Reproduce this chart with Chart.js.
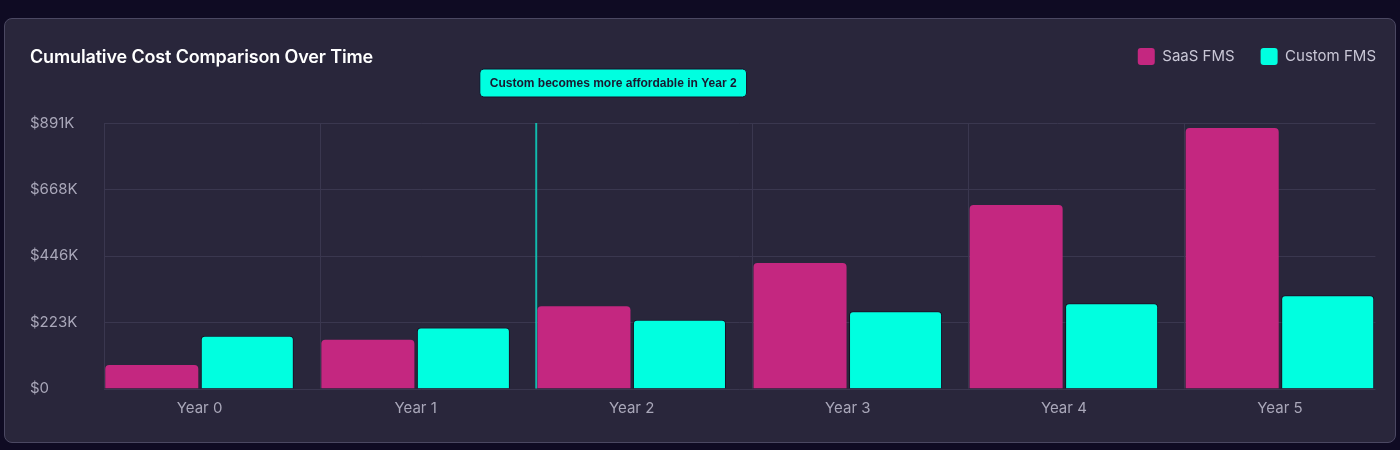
<!DOCTYPE html>
<html>
<head>
<meta charset="utf-8">
<script src="https://cdn.jsdelivr.net/npm/chart.js@4.4.1/dist/chart.umd.min.js"></script>
<style>
  html, body { margin: 0; padding: 0; background: #0f0b23; width: 1400px; height: 450px; overflow: hidden; }
  .card {
    position: absolute; left: 4px; top: 18px;
    width: 1390px; height: 423px;
    background: #29263b; border: 1px solid #4b4862; border-radius: 8px;
    overflow: hidden;
  }
  .card h2 {
    position: absolute; left: 25px; top: 27px; margin: 0;
    font: 600 18px/22px 'Inter', sans-serif; color: #ffffff; letter-spacing: -0.15px;
  }
  #costChart { position: absolute; left: 0; top: 0; }
</style>
</head>
<body>
<div class="card">
  <canvas id="costChart" width="1397" height="423" style="width:1397px;height:423px"></canvas>
  <h2>Cumulative Cost Comparison Over Time</h2>
</div>
<script>
// Veriler
const years = ['Year 0', 'Year 1', 'Year 2', 'Year 3', 'Year 4', 'Year 5'];
const saasCost = [79000, 164000, 276000, 421000, 616000, 874000];
const customCost = [177000, 205000, 231000, 259000, 286000, 313000];
const yTicks = [0, 222750, 445500, 668250, 891000];
const seriesNames = ['SaaS FMS', 'Custom FMS'];
const seriesColors = ['#c42780', '#00ffe0'];
const crossoverYear = 'Year 2';
const crossoverNote = 'Custom becomes more affordable in Year 2';

const CAT_PCT = 0.884;
const gridColor = '#3a374f';
const tickColor = '#a9a7b9';

Chart.defaults.font.family = "'Inter', sans-serif";

// grup kenarları (ölçekten hesaplanır)
function groupEdges(chart, i) {
    const x = chart.scales.x;
    const half = x.width / years.length * CAT_PCT / 2;
    const c = x.getPixelForValue(i);
    return [c - half, c + half];
}

// Izgara çizgileri + kesişim çizgisi
const gridPlugin = {
    id: 'customGrid',
    beforeInit(chart) {
        const fit = chart.legend.fit;
        chart.legend.fit = function () {
            fit.call(this);
            this.height = 101;
        };
    },
    beforeDatasetsDraw(chart) {
        const ctx = chart.ctx;
        const y = chart.scales.y;
        const area = chart.chartArea;
        const left = groupEdges(chart, 0)[0];
        const right = groupEdges(chart, years.length - 1)[1];
        ctx.save();
        ctx.lineWidth = 1;
        ctx.strokeStyle = gridColor;
        y.ticks.forEach(t => {
            const py = Math.round(y.getPixelForValue(t.value)) + 0.5;
            ctx.beginPath();
            ctx.moveTo(left, py);
            ctx.lineTo(right, py);
            ctx.stroke();
        });
        years.forEach((yr, i) => {
            const px = Math.round(groupEdges(chart, i)[0]) + 0.5;
            ctx.beginPath();
            ctx.moveTo(px, area.top);
            ctx.lineTo(px, area.bottom);
            ctx.stroke();
        });
        // kesişim yılı çizgisi
        const cx = groupEdges(chart, years.indexOf(crossoverYear))[0];
        ctx.strokeStyle = 'rgba(0, 255, 224, 0.65)';
        ctx.lineWidth = 2;
        ctx.beginPath();
        ctx.moveTo(cx, area.top);
        ctx.lineTo(cx, area.bottom);
        ctx.stroke();
        ctx.restore();
    },
    afterDraw(chart) {
        const ctx = chart.ctx;
        const area = chart.chartArea;
        const cx = groupEdges(chart, years.indexOf(crossoverYear))[0];
        ctx.save();
        ctx.font = "bold 12px 'Liberation Sans', Arial, sans-serif";
        const w = ctx.measureText(crossoverNote).width + 20;
        const h = 28;
        const bx = cx + 77 - w / 2;
        const by = area.top - 54;
        ctx.beginPath();
        ctx.roundRect(bx, by, w, h, 4);
        ctx.fillStyle = '#00ffe0';
        ctx.fill();
        ctx.lineWidth = 1;
        ctx.strokeStyle = '#15122a';
        ctx.stroke();
        ctx.fillStyle = '#1a1830';
        ctx.textAlign = 'center';
        ctx.textBaseline = 'middle';
        ctx.fillText(crossoverNote, bx + w / 2, by + h / 2 + 1);
        ctx.restore();
    }
};

new Chart(document.getElementById('costChart').getContext('2d'), {
    type: 'bar',
    data: {
        labels: years,
        datasets: [
            {
                label: seriesNames[0],
                data: saasCost,
                backgroundColor: seriesColors[0],
                borderColor: seriesColors[0],
                borderWidth: 0,
                borderRadius: { topLeft: 4, topRight: 4 },
                borderSkipped: 'bottom',
                categoryPercentage: CAT_PCT,
                barPercentage: 0.974
            },
            {
                label: seriesNames[1],
                data: customCost,
                backgroundColor: seriesColors[1],
                borderColor: 'rgba(12, 10, 28, 0.7)',
                borderWidth: { top: 1, left: 1, right: 1, bottom: 0 },
                borderRadius: { topLeft: 4, topRight: 4 },
                borderSkipped: 'bottom',
                categoryPercentage: CAT_PCT,
                barPercentage: 0.974
            }
        ]
    },
    options: {
        responsive: false,
        animation: false,
        devicePixelRatio: 1,
        layout: { padding: { top: 3, left: 25, right: 0, bottom: 21.5 } },
        plugins: {
            title: { display: false },
            tooltip: { enabled: false },
            legend: {
                position: 'top',
                align: 'end',
                labels: {
                    boxWidth: 17,
                    boxHeight: 17,
                    useBorderRadius: true,
                    borderRadius: 3,
                    padding: 26,
                    color: '#c9c7d6',
                    font: { size: 15 },
                    generateLabels(chart) {
                        return chart.data.datasets.map((ds, i) => ({
                            text: ds.label,
                            fillStyle: seriesColors[i],
                            strokeStyle: seriesColors[i],
                            lineWidth: 0,
                            borderRadius: 3,
                            fontColor: '#c9c7d6',
                            datasetIndex: i
                        }));
                    }
                }
            }
        },
        scales: {
            x: {
                grid: { display: false },
                border: { display: false },
                ticks: { color: tickColor, font: { size: 15 }, padding: 3 }
            },
            y: {
                min: 0,
                max: yTicks[yTicks.length - 1],
                grid: { display: false },
                border: { display: false },
                afterBuildTicks(scale) {
                    scale.ticks = yTicks.map(v => ({ value: v }));
                },
                afterFit(scale) { scale.width = 61.5; },
                ticks: {
                    color: tickColor,
                    font: { size: 15 },
                    crossAlign: 'far',
                    callback: v => v === 0 ? '$0' : '$' + Math.round(v / 1000) + 'K'
                }
            },
            y2: {
                position: 'right',
                display: true,
                grid: { display: false },
                border: { display: false },
                ticks: { display: false },
                afterFit(scale) { scale.width = 14; }
            }
        }
    },
    plugins: [gridPlugin]
});
</script>
</body>
</html>
